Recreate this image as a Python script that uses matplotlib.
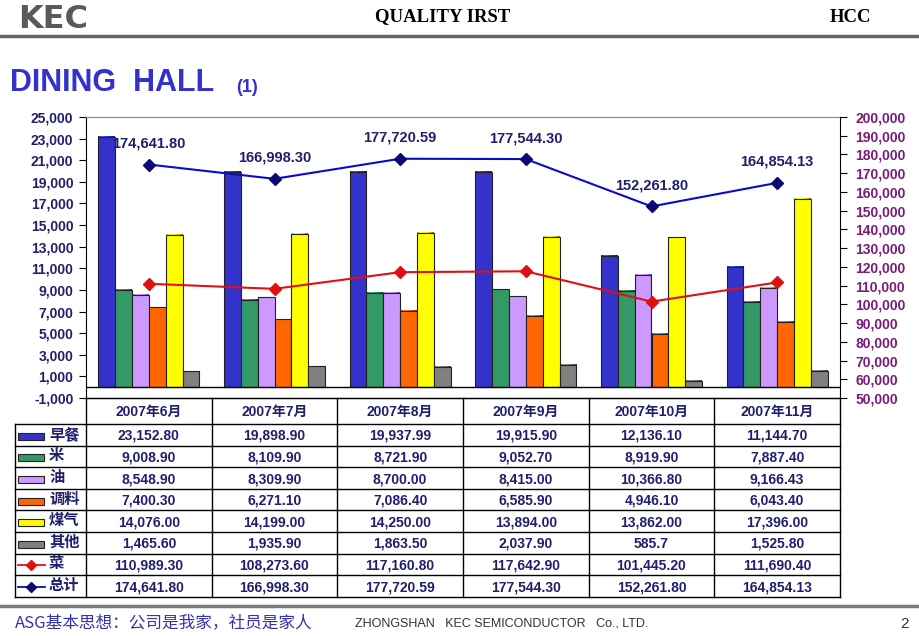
"""
KEC dining hall monthly cost chart (Jun-Nov 2007): grouped bars for
ingredient costs, lines for vegetables and totals, data table below.
"""

import numpy as np
import matplotlib.pyplot as plt
from matplotlib.colors import to_rgb, LinearSegmentedColormap
from matplotlib.ticker import FuncFormatter

months = ["2007年6月", "2007年7月", "2007年8月", "2007年9月", "2007年10月", "2007年11月"]

bar_names = ["早餐", "米", "油", "调料", "煤气", "其他"]
breakfast = [23152.80, 19898.90, 19937.99, 19915.90, 12136.10, 11144.70]
rice = [9008.90, 8109.90, 8721.90, 9052.70, 8919.90, 7887.40]
oil = [8548.90, 8309.90, 8700.00, 8415.00, 10366.80, 9166.43]
seasoning = [7400.30, 6271.10, 7086.40, 6585.90, 4946.10, 6043.40]
gas = [14076.00, 14199.00, 14250.00, 13894.00, 13862.00, 17396.00]
other = [1465.60, 1935.90, 1863.50, 2037.90, 585.7, 1525.80]

vegetables = [110989.30, 108273.60, 117160.80, 117642.90, 101445.20, 111690.40]
total = [174641.80, 166998.30, 177720.59, 177544.30, 152261.80, 164854.13]

bar_series = [breakfast, rice, oil, seasoning, gas, other]
bar_colors = ["#3333CC", "#339966", "#CC99FF", "#FF6600", "#FFFF00", "#808080"]

NAVY = "#1F1F6E"
PURPLE = "#7A1A7A"
SANS = ["Liberation Sans", "Noto Sans CJK SC"]
CJK = ["Noto Sans CJK SC", "Liberation Sans"]


def fmt(v):
    return f"{v:,.1f}" if v < 1000 else f"{v:,.2f}"


def shaded(color):
    c = np.array(to_rgb(color))
    light = np.clip(c + (1 - c) * 0.25, 0, 1)
    return LinearSegmentedColormap.from_list(
        "s", [c * 0.75, light, c, c * 0.85, c * 0.45])


fig = plt.figure(figsize=(9.2, 6.36), dpi=100)

# overlay in pixel coordinates for header, footer and table
ov = fig.add_axes([0, 0, 1, 1], zorder=0)
ov.set_xlim(0, 920)
ov.set_ylim(636, 0)
ov.axis("off")

L, R, TOP, BOT = 86, 840, 117, 398
ax = fig.add_axes([L / 920, 1 - BOT / 636, (R - L) / 920, (BOT - TOP) / 636], zorder=2)
ax.patch.set_alpha(0)
ax.set_xlim(-0.5, 5.5)
ax.set_ylim(-1000, 25000)

x = np.arange(len(months))
w = 0.134
for k, (vals, col) in enumerate(zip(bar_series, bar_colors)):
    bars = ax.bar(x + (k - 2.5) * w, vals, w, color=col, edgecolor="#222222",
                  linewidth=0.8, zorder=3)
    cmap = shaded(col)
    for b in bars:
        x0, y0 = b.get_xy()
        ax.imshow(np.linspace(0, 1, 32).reshape(1, -1), cmap=cmap, aspect="auto",
                  extent=[x0, x0 + b.get_width(), y0, y0 + b.get_height()], zorder=2.9)
ax.set_xlim(-0.5, 5.5)
ax.set_ylim(-1000, 25000)
ax.axhline(0, color="black", lw=1, zorder=4)

ax.set_xticks([])
ax.set_yticks(range(-1000, 25001, 2000))
ax.yaxis.set_major_formatter(FuncFormatter(lambda v, p: f"{int(v):,}"))
ax.tick_params(axis="y", direction="out", length=5, width=0.8, colors="black",
               labelcolor=NAVY, labelsize=10, pad=4)
for t in ax.get_yticklabels():
    t.set_fontweight("bold")
    t.set_family(SANS)
ax.spines["top"].set_color("#888888")
ax.spines["right"].set_visible(False)

ax2 = ax.twinx()
ax2.set_ylim(50000, 200000)
ax2.set_yticks(range(50000, 200001, 10000))
ax2.yaxis.set_major_formatter(FuncFormatter(lambda v, p: f"{int(v):,}"))
ax2.tick_params(axis="y", direction="out", length=5, width=0.8, colors="black",
                labelcolor=PURPLE, labelsize=10, pad=6)
for t in ax2.get_yticklabels():
    t.set_fontweight("bold")
    t.set_family(SANS)
for s in ["top", "left", "bottom"]:
    ax2.spines[s].set_visible(False)

ax2.plot(x, vegetables, color="#E01010", lw=1.5, marker="D", ms=6,
         mfc="#E01010", mec="#E01010", zorder=5)
ax2.plot(x, total, color="#0A0ACC", lw=1.5, marker="D", ms=6,
         mfc="#0A0A70", mec="#0A0A70", zorder=5)
for xi, v in zip(x, total):
    ax2.annotate(f"{v:,.2f}", (xi, v), xytext=(0, 10), textcoords="offset points",
                 ha="center", va="bottom", fontsize=10.5, fontweight="bold",
                 color=NAVY, family=SANS)

# header
ov.text(18, 19, "KEC", fontsize=23, fontweight="bold", color="#5A5A5A",
        family="DejaVu Sans", va="center", ha="left")
ov.text(443, 17, "QUALITY IRST", fontsize=13.5, fontweight="bold",
        family="Liberation Serif", ha="center", va="center")
ov.text(850, 17, "HCC", fontsize=13.5, fontweight="bold",
        family="Liberation Serif", ha="center", va="center")
ov.plot([0, 920], [36, 36], color="#666666", lw=2.5)
ov.text(10, 83, "DINING  HALL", fontsize=22, fontweight="bold", color="#3333CC",
        family="Liberation Sans", va="center", ha="left")
ov.text(236, 87, "(1)", fontsize=13, fontweight="bold", color="#3333CC",
        family="Liberation Sans", va="center", ha="left")

# data table
edges = np.linspace(L, R, len(months) + 1)
hdr_top, hdr_bot = 398, 424
row_h = 21.6
rows_names = bar_names + ["菜", "总计"]
rows_vals = bar_series + [vegetables, total]
row_edges = [hdr_bot + i * row_h for i in range(len(rows_names) + 1)]
lk = dict(color="black", lw=1)
ov.plot([L, R], [hdr_top, hdr_top], **lk)
ov.plot([15, R], [hdr_bot, hdr_bot], **lk)
for yy in row_edges[1:]:
    ov.plot([15, R], [yy, yy], **lk)
for xx in edges:
    ov.plot([xx, xx], [hdr_top, row_edges[-1]], **lk)
ov.plot([15, 15], [hdr_bot, row_edges[-1]], **lk)

for j, m in enumerate(months):
    ov.text((edges[j] + edges[j + 1]) / 2, (hdr_top + hdr_bot) / 2 + 1, m,
            fontsize=10, fontweight="bold", color=NAVY, family=SANS,
            ha="center", va="center")

for i, (name, vals) in enumerate(zip(rows_names, rows_vals)):
    yc = (row_edges[i] + row_edges[i + 1]) / 2
    if i < len(bar_colors):
        ov.add_patch(plt.Rectangle((18, yc - 2), 26, 7, facecolor=bar_colors[i],
                                   edgecolor="#222222", lw=0.8))
    else:
        lc = "#E01010" if name == "菜" else "#0A0ACC"
        mc = "#E01010" if name == "菜" else "#0A0A70"
        ov.plot([18, 45], [yc + 1, yc + 1], color=lc, lw=1.3)
        ov.plot([31.5], [yc + 1], marker="D", ms=5, color=mc)
    ov.text(49, yc - 1, name, fontsize=11, fontweight="bold", color=NAVY,
            family=CJK, ha="left", va="center")
    for j, v in enumerate(vals):
        ov.text((edges[j] + edges[j + 1]) / 2, yc + 1, fmt(v), fontsize=10,
                fontweight="bold", color=NAVY, family=SANS,
                ha="center", va="center")

# footer
ov.plot([0, 920], [606, 606], color="#7A7A7A", lw=2.5)
ov.text(15, 623, "ASG基本思想：公司是我家，社员是家人", fontsize=12,
        color="#3333AA", family=CJK, ha="left", va="center")
ov.text(355, 624, "ZHONGSHAN   KEC SEMICONDUCTOR   Co., LTD.", fontsize=9,
        color="#333333", family="Liberation Sans", ha="left", va="center")
ov.text(905, 624, "2", fontsize=11, color="#333333", family="Liberation Sans",
        ha="center", va="center")

fig.savefig("out.png", dpi=100)
plt.close(fig)
